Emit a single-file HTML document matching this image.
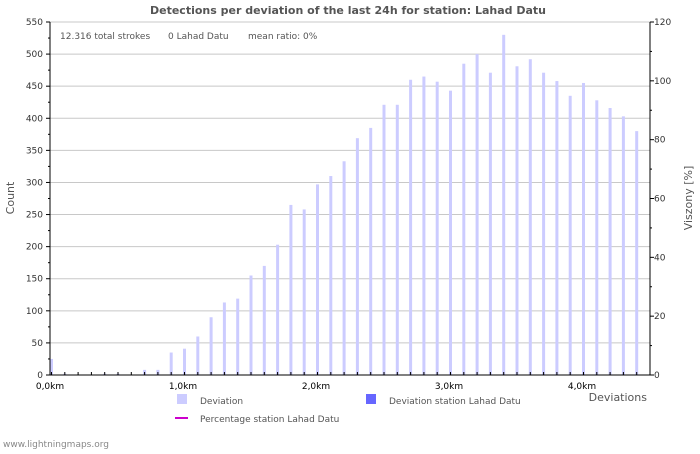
<!DOCTYPE html>
<html><head><meta charset="utf-8"><style>
body{margin:0;background:#fff;font-family:"DejaVu Sans","Liberation Sans",sans-serif;}
svg text{font-family:"DejaVu Sans","Liberation Sans",sans-serif;}
</style></head><body>
<svg id="chart" width="700" height="450">
<text x="348" y="14" text-anchor="middle" font-size="11" font-weight="bold" fill="#555">Detections per deviation of the last 24h for station: Lahad Datu</text>
<g id="grid"></g><g id="bars"></g><g id="axes"></g>
<text x="60" y="39" font-size="9" fill="#555">12.316 total strokes</text>
<text x="168" y="39" font-size="9" fill="#555">0 Lahad Datu</text>
<text x="248" y="39" font-size="9" fill="#555">mean ratio: 0%</text>
<text x="14" y="198" font-size="11" fill="#555" text-anchor="middle" transform="rotate(-90 14 198)">Count</text>
<text x="692" y="198" font-size="11" fill="#555" text-anchor="middle" transform="rotate(-90 692 198)">Viszony [%]</text>
<text x="647" y="401" font-size="11" fill="#555" text-anchor="end">Deviations</text>
<g>
<rect x="177" y="394" width="10" height="10" fill="#ccccff"/>
<text x="200" y="404" font-size="9" fill="#555">Deviation</text>
<rect x="366" y="394" width="10" height="10" fill="#6666ff"/>
<text x="389" y="404" font-size="9" fill="#555">Deviation station Lahad Datu</text>
<rect x="175" y="417" width="13" height="2" fill="#cc00cc"/>
<text x="200" y="422" font-size="9" fill="#555">Percentage station Lahad Datu</text>
</g>
<text x="3" y="447" font-size="9" fill="#888">www.lightningmaps.org</text>
</svg>
<script>
const counts=[25,2,0,0,2,2,0,8,8,35,41,60,90,113,119,155,170,203,265,258,297,310,333,369,385,421,421,460,465,457,443,485,500,471,530,481,492,471,458,435,455,428,416,403,380];
const stationCounts=counts.map(()=>0);
const yTicks=[0,50,100,150,200,250,300,350,400,450,500,550];
const y2Ticks=[0,20,40,60,80,100,120];
const xTickLabels=["0,0km","1,0km","2,0km","3,0km","4,0km"];
const NS="http://www.w3.org/2000/svg";
const X0=50,X1=650,Y0=375,Y1=22;
const xs=km=>X0+km*133;
const ys=v=>Y0-(v/550)*(Y0-Y1);
const y2s=v=>Y0-(v/120)*(Y0-Y1);
function mk(p,t,a){const e=document.createElementNS(NS,t);for(const k in a)e.setAttribute(k,a[k]);document.getElementById(p).appendChild(e);return e;}
yTicks.forEach(v=>{
 const l=mk('grid','line',{x1:X0,x2:X1,y1:ys(v),y2:ys(v),stroke:'#c8c8c8','stroke-width':1});
 
 
 const t=mk('axes','text',{x:X0-7,y:ys(v)+3,'text-anchor':'end','font-size':9,fill:'#333'});
 t.textContent=v;
 
 
 mk('axes','line',{x1:X0-4,x2:X0,y1:ys(v),y2:ys(v),stroke:'#000'});
 if(v<550){mk('axes','line',{x1:X0-2,x2:X0,y1:ys(v+25),y2:ys(v+25),stroke:'#000'});}
});
y2Ticks.forEach(v=>{
 const t=mk('axes','text',{x:X1+4,y:y2s(v)+3,'font-size':9,fill:'#333'});
 t.textContent=v;
 
 
 mk('axes','line',{x1:X1,x2:X1+4,y1:y2s(v),y2:y2s(v),stroke:'#000'});
 if(v<120)mk('axes','line',{x1:X1,x2:X1+2,y1:y2s(v+10),y2:y2s(v+10),stroke:'#000'});
});
xTickLabels.forEach((s,i)=>{
 const t=mk('axes','text',{x:xs(i),y:Y0+14,'text-anchor':'middle','font-size':9,fill:'#000'});
 t.textContent=s;
 
 
});
counts.forEach((v,i)=>{
 const x=xs(i*0.1)+1.5;
 const b=mk('bars','rect',{x:x-1.5,y:ys(v),width:3,height:Y0-ys(v),fill:'#ccccff'});
 
 
 if(stationCounts[i]>0){const s=mk('bars','rect',{x:x-1.5,y:ys(stationCounts[i]),width:3,height:Y0-ys(stationCounts[i]),fill:'#6666ff'});
 
 }
 mk('axes','line',{x1:x,x2:x,y1:Y0-3,y2:Y0,stroke:'#000'});
});
mk('axes','line',{x1:X0,x2:X0,y1:Y1,y2:Y0,stroke:'#000'});
mk('axes','line',{x1:X1,x2:X1,y1:Y1,y2:Y0,stroke:'#000'});
mk('axes','line',{x1:X0,x2:X1,y1:Y0,y2:Y0,stroke:'#000'});
</script>
</body></html>
